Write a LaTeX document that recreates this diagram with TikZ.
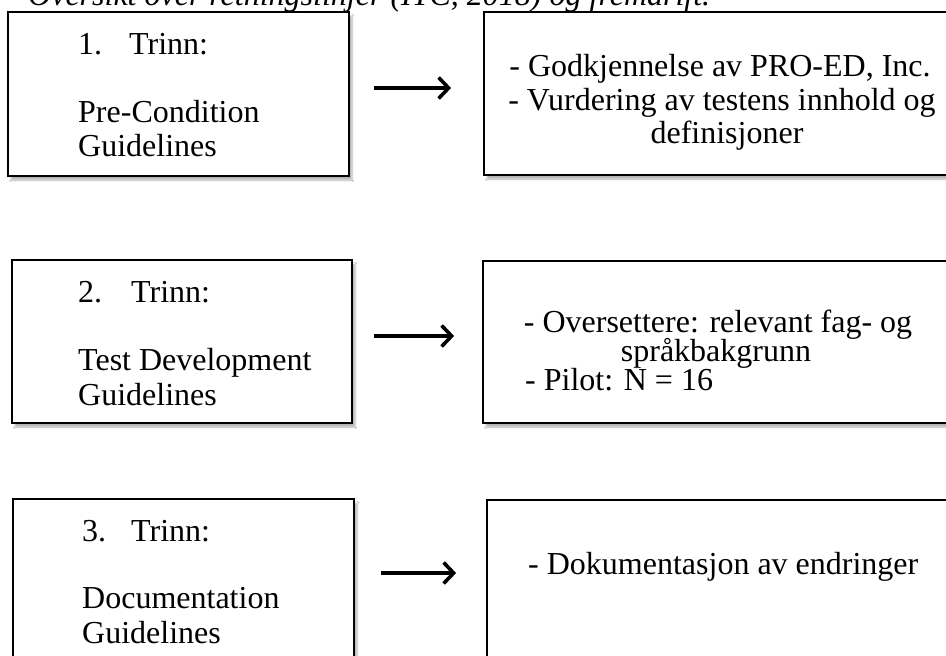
\documentclass[tikz,border=0pt]{standalone}
\usepackage{fontspec}
\setmainfont{Liberation Serif}
\usetikzlibrary{arrows.meta,shadows.blur}
\begin{document}
\begin{tikzpicture}[x=1pt,y=-1pt,
  box/.style={draw=black,line width=1.8pt,fill=white,inner sep=0pt,
    blur shadow={shadow xshift=3pt,shadow yshift=-4pt,shadow blur steps=6,shadow opacity=30}},
  txt/.style={inner sep=0pt,anchor=base west,font=\fontsize{32}{34.5}\selectfont},
  ctxt/.style={inner sep=0pt,anchor=base,font=\fontsize{32}{34.5}\selectfont},
  arr/.style={line width=3.6pt,-{Straight Barb[length=10pt,width=21pt,line width=3.6pt]}}]
\useasboundingbox (0,0) rectangle (946,656);
\clip (0,0) rectangle (946,656);
\fill[white] (0,0) rectangle (946,656);

% caption
\node[txt,font=\fontsize{32}{34.5}\selectfont\itshape] (cap) at (28,5.5) {Oversikt over retningslinjer (ITC, 2018) og fremdrift.};

% boxes
\node[box,minimum width=341pt,minimum height=164pt] (l1) at (178.5,94) {};
\node[box,minimum width=486pt,minimum height=163pt] (r1) at (727,93.5) {};
\node[box,minimum width=340pt,minimum height=163pt] (l2) at (182,341.5) {};
\node[box,minimum width=487pt,minimum height=162pt] (r2) at (726.5,342) {};
\node[box,minimum width=341pt,minimum height=166pt] (l3) at (183.5,582) {};
\node[box,minimum width=483pt,minimum height=166pt] (r3) at (728.5,583) {};

% row 1 text
\node[txt] (n1) at (78,54) {1.};
\node[txt] (t1) at (129,54) {Trinn:};
\node[txt] (g1a) at (78,122) {Pre-Condition};
\node[txt] (g1b) at (78,156) {Guidelines};
\node[ctxt] (d1a) at (720,76) {- Godkjennelse av PRO-ED, Inc.};
\node[ctxt] (d1b) at (722,110) {- Vurdering av testens innhold og};
\node[ctxt] (d1c) at (727,143) {definisjoner};

% row 2 text
\node[txt] (n2) at (78,302) {2.};
\node[txt] (t2) at (131,302) {Trinn:};
\node[txt] (g2a) at (78,370) {Test Development};
\node[txt] (g2b) at (78,405) {Guidelines};
\node[ctxt] (d2a) at (718,332) {- Oversettere: relevant fag- og};
\node[ctxt] (d2b) at (716,361) {språkbakgrunn};
\node[txt] (d2c) at (525,390) {- Pilot: N = 16};

% row 3 text
\node[txt] (n3) at (82,541) {3.};
\node[txt] (t3) at (131,541) {Trinn:};
\node[txt] (g3a) at (82,608) {Documentation};
\node[txt] (g3b) at (82,643) {Guidelines};
\node[txt] (d3a) at (528,574) {- Dokumentasjon av endringer};

% arrows
\draw[arr,shorten <=24pt,shorten >=32pt] ([yshift=6pt]l1.east) -- ([yshift=6pt]l1.east -| r1.west);
\draw[arr,shorten <=21pt,shorten >=28pt] ([yshift=5.5pt]l2.east) -- ([yshift=5.5pt]l2.east -| r2.west);
\draw[arr,shorten <=26pt,shorten >=30pt] ([yshift=9pt]l3.east) -- ([yshift=9pt]l3.east -| r3.west);
\end{tikzpicture}
\end{document}
